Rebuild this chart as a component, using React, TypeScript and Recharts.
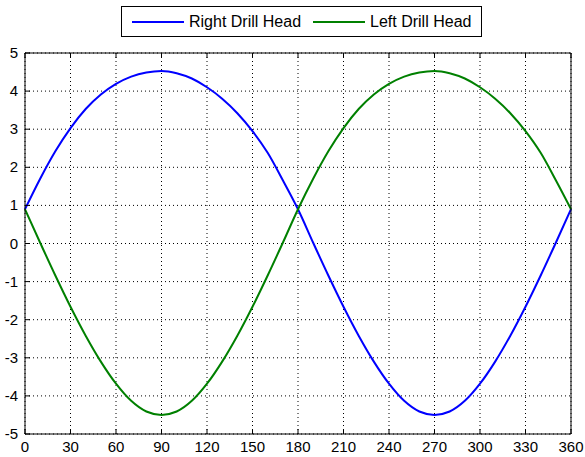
import React from 'react';
import { LineChart, Line, XAxis, YAxis, CartesianGrid, Legend } from 'recharts';

// crank angle in degrees
const degrees = [
  0, 10, 20, 30, 40, 50, 60, 70, 80, 90, 100, 110, 120, 130, 140, 150, 160, 170, 180,
  190, 200, 210, 220, 230, 240, 250, 260, 270, 280, 290, 300, 310, 320, 330, 340, 350, 360,
];

const rightDrillHead = [
  0.9, 1.7, 2.42, 3.03, 3.53, 3.91, 4.19, 4.38, 4.49, 4.53, 4.47, 4.33, 4.1, 3.8, 3.42, 2.95, 2.38, 1.66, 0.9,
  0.02, -0.84, -1.66, -2.42, -3.1, -3.68, -4.13, -4.41, -4.5, -4.41, -4.13, -3.68, -3.1, -2.42, -1.66, -0.84, 0.02, 0.9,
];

const leftDrillHead = [
  0.9, 0.02, -0.84, -1.66, -2.42, -3.1, -3.68, -4.13, -4.41, -4.5, -4.41, -4.13, -3.68, -3.1, -2.42, -1.66, -0.84, 0.02, 0.9,
  1.7, 2.42, 3.03, 3.53, 3.91, 4.19, 4.38, 4.49, 4.53, 4.47, 4.33, 4.1, 3.8, 3.42, 2.95, 2.38, 1.66, 0.9,
];

const seriesNames = ['Right Drill Head', 'Left Drill Head'];

const xTicks = [0, 30, 60, 90, 120, 150, 180, 210, 240, 270, 300, 330, 360];
const yTicks = [-5, -4, -3, -2, -1, 0, 1, 2, 3, 4, 5];

const FONT = '"Liberation Sans", Arial, Helvetica, sans-serif';
const TICK_LEN = 5;

const data = degrees.map((deg, i) => ({
  deg,
  right: rightDrillHead[i],
  left: leftDrillHead[i],
}));

const BottomTick = ({ x, y, payload }: any) => (
  <g>
    <line x1={x} x2={x} y1={y} y2={y - TICK_LEN} stroke="#000" />
    <text x={x} y={y + 18} textAnchor="middle" fontSize={15} fontFamily={FONT} fill="#000">
      {payload.value}
    </text>
  </g>
);

const LeftTick = ({ x, y, payload }: any) => (
  <g>
    <line x1={x} x2={x + TICK_LEN} y1={y} y2={y} stroke="#000" />
    <text x={x - 7} y={y + 5} textAnchor="end" fontSize={15} fontFamily={FONT} fill="#000">
      {payload.value}
    </text>
  </g>
);

const TopTick = ({ x, y }: any) => (
  <line x1={x} x2={x} y1={y} y2={y + TICK_LEN} stroke="#000" />
);

const RightTick = ({ x, y }: any) => (
  <line x1={x} x2={x - TICK_LEN} y1={y} y2={y} stroke="#000" />
);

const LegendBox = ({ payload }: any) => {
  const items = [...(payload || [])].sort(
    (a: any, b: any) => seriesNames.indexOf(a.value) - seriesNames.indexOf(b.value)
  );
  return (
    <div
      style={{
        boxSizing: 'border-box',
        height: 31,
        border: '1px solid #000',
        background: '#fff',
        display: 'flex',
        alignItems: 'center',
        padding: '0 10px',
        fontFamily: FONT,
        fontSize: 16,
        color: '#000',
        whiteSpace: 'nowrap',
      }}
    >
      {items.map((entry: any, i: number) => (
        <div key={entry.value} style={{ display: 'flex', alignItems: 'center', marginLeft: i === 0 ? 0 : 12 }}>
          <svg width={52} height={4} style={{ display: 'block' }}>
            <line x1={0} x2={52} y1={2} y2={2} stroke={entry.color} strokeWidth={2} />
          </svg>
          <span style={{ marginLeft: 5 }}>{entry.value}</span>
        </div>
      ))}
    </div>
  );
};

export default function App() {
  return (
    <div style={{ position: 'absolute', left: 0, top: 0, width: 585, height: 457, background: '#fff' }}>
      <LineChart width={585} height={457} data={data} margin={{ top: 52, right: 13, bottom: 0, left: 0 }}>
        <CartesianGrid stroke="#000" strokeDasharray="1 3" />
        <XAxis
          dataKey="deg"
          type="number"
          domain={[0, 360]}
          ticks={xTicks}
          interval={0}
          height={23}
          tickSize={0}
          tickMargin={0}
          tick={<BottomTick />}
          axisLine={{ stroke: '#000' }}
        />
        <XAxis
          xAxisId="top"
          orientation="top"
          dataKey="deg"
          type="number"
          domain={[0, 360]}
          ticks={xTicks}
          interval={0}
          height={1}
          tickSize={0}
          tickMargin={0}
          tick={<TopTick />}
          axisLine={{ stroke: '#000' }}
        />
        <YAxis
          type="number"
          domain={[-5, 5]}
          ticks={yTicks}
          interval={0}
          width={25}
          tickSize={0}
          tickMargin={0}
          tick={<LeftTick />}
          axisLine={{ stroke: '#000' }}
        />
        <YAxis
          yAxisId="right"
          orientation="right"
          type="number"
          domain={[-5, 5]}
          ticks={yTicks}
          interval={0}
          width={1}
          tickSize={0}
          tickMargin={0}
          tick={<RightTick />}
          axisLine={{ stroke: '#000' }}
        />
        <Legend
          layout="horizontal"
          verticalAlign="middle"
          align="center"
          content={<LegendBox />}
          wrapperStyle={{ top: 6, left: 121, width: 'auto', height: 31 }}
        />
        <Line
          name={seriesNames[0]}
          dataKey="right"
          type="monotone"
          stroke="#0000ff"
          strokeWidth={2}
          dot={false}
          activeDot={false}
          isAnimationActive={false}
        />
        <Line
          name={seriesNames[1]}
          dataKey="left"
          type="monotone"
          stroke="#008000"
          strokeWidth={2}
          dot={false}
          activeDot={false}
          isAnimationActive={false}
        />
      </LineChart>
    </div>
  );
}
